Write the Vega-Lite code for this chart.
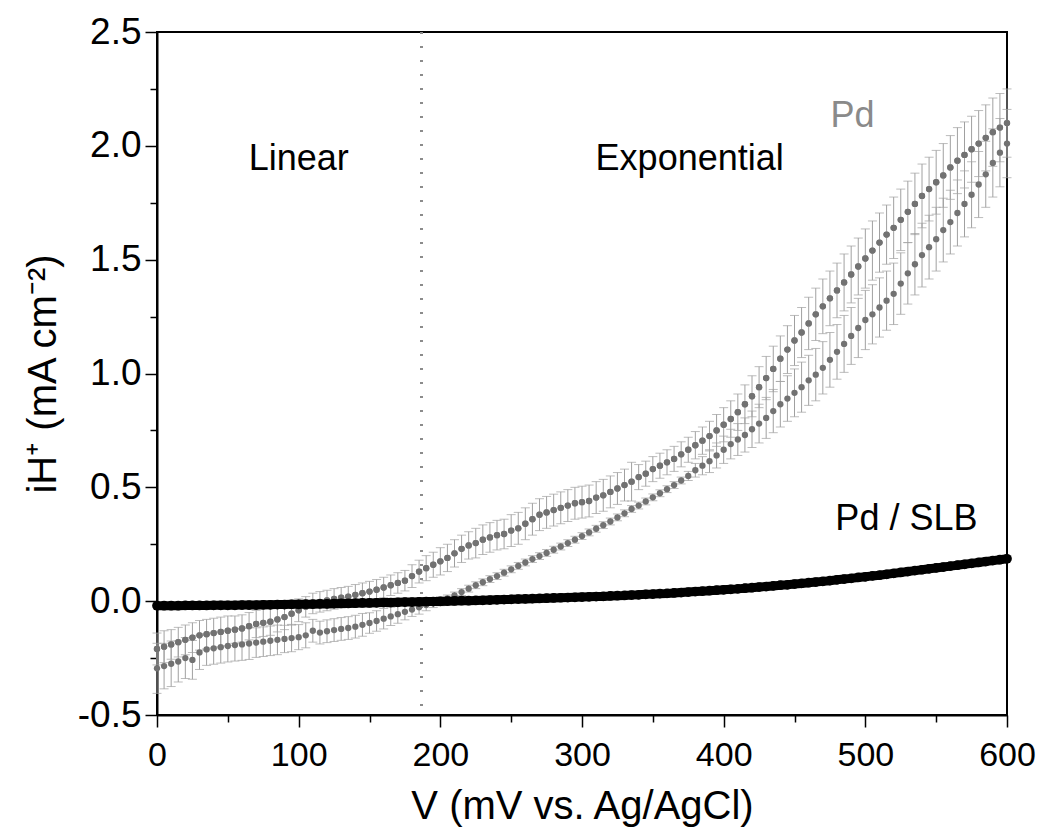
{
  "$schema": "https://vega.github.io/schema/vega-lite/v6.json",
  "width": 850,
  "height": 683,
  "autosize": {"type": "none"},
  "padding": {"left": 157, "top": 32, "right": 34, "bottom": 121},
  "background": "white",
  "config": {
    "font": "Liberation Sans",
    "view": {"stroke": "black", "strokeWidth": 2},
    "axis": {
      "grid": false,
      "domainColor": "black",
      "domainWidth": 2,
      "tickColor": "black",
      "tickWidth": 1.5,
      "labelColor": "black",
      "titleColor": "black",
      "labelFont": "Liberation Sans",
      "titleFont": "Liberation Sans",
      "titleFontWeight": "normal",
      "labelOverlap": false,
      "labelBound": false,
      "labelFlush": false
    }
  },
  "datasets": {
    "pd": [
      {"v":0,"a":-0.21,"ea":0.07,"b":-0.295,"eb":0.11,"c":-0.020},
      {"v":5,"a":-0.2,"ea":0.07,"b":-0.285,"eb":0.1,"c":-0.020},
      {"v":10,"a":-0.19,"ea":0.065,"b":-0.275,"eb":0.1,"c":-0.020},
      {"v":15,"a":-0.18,"ea":0.065,"b":-0.265,"eb":0.09,"c":-0.020},
      {"v":20,"a":-0.17,"ea":0.065,"b":-0.25,"eb":0.09,"c":-0.019},
      {"v":25,"a":-0.16,"ea":0.065,"b":-0.258,"eb":0.085,"c":-0.019},
      {"v":30,"a":-0.15,"ea":0.065,"b":-0.225,"eb":0.075,"c":-0.019},
      {"v":35,"a":-0.145,"ea":0.065,"b":-0.212,"eb":0.07,"c":-0.019},
      {"v":40,"a":-0.14,"ea":0.065,"b":-0.207,"eb":0.07,"c":-0.018},
      {"v":45,"a":-0.135,"ea":0.065,"b":-0.202,"eb":0.07,"c":-0.018},
      {"v":50,"a":-0.13,"ea":0.065,"b":-0.197,"eb":0.07,"c":-0.018},
      {"v":55,"a":-0.125,"ea":0.06,"b":-0.193,"eb":0.07,"c":-0.018},
      {"v":60,"a":-0.12,"ea":0.06,"b":-0.19,"eb":0.07,"c":-0.017},
      {"v":65,"a":-0.11,"ea":0.06,"b":-0.186,"eb":0.07,"c":-0.017},
      {"v":70,"a":-0.1,"ea":0.06,"b":-0.182,"eb":0.065,"c":-0.017},
      {"v":75,"a":-0.095,"ea":0.06,"b":-0.178,"eb":0.065,"c":-0.016},
      {"v":80,"a":-0.09,"ea":0.06,"b":-0.174,"eb":0.065,"c":-0.016},
      {"v":85,"a":-0.08,"ea":0.055,"b":-0.17,"eb":0.065,"c":-0.015},
      {"v":90,"a":-0.07,"ea":0.055,"b":-0.166,"eb":0.06,"c":-0.015},
      {"v":95,"a":-0.055,"ea":0.05,"b":-0.162,"eb":0.06,"c":-0.014},
      {"v":100,"a":-0.04,"ea":0.05,"b":-0.158,"eb":0.055,"c":-0.014},
      {"v":105,"a":-0.025,"ea":0.045,"b":-0.15,"eb":0.055,"c":-0.013},
      {"v":110,"a":-0.01,"ea":0.045,"b":-0.13,"eb":0.05,"c":-0.013},
      {"v":115,"a":-0.003,"ea":0.045,"b":-0.138,"eb":0.05,"c":-0.012},
      {"v":120,"a":0.003,"ea":0.045,"b":-0.132,"eb":0.05,"c":-0.012},
      {"v":125,"a":0.01,"ea":0.045,"b":-0.127,"eb":0.05,"c":-0.011},
      {"v":130,"a":0.015,"ea":0.045,"b":-0.122,"eb":0.05,"c":-0.010},
      {"v":135,"a":0.02,"ea":0.045,"b":-0.118,"eb":0.05,"c":-0.010},
      {"v":140,"a":0.028,"ea":0.045,"b":-0.112,"eb":0.05,"c":-0.009},
      {"v":145,"a":0.035,"ea":0.045,"b":-0.104,"eb":0.05,"c":-0.008},
      {"v":150,"a":0.042,"ea":0.045,"b":-0.096,"eb":0.045,"c":-0.008},
      {"v":155,"a":0.05,"ea":0.045,"b":-0.087,"eb":0.045,"c":-0.007},
      {"v":160,"a":0.06,"ea":0.045,"b":-0.077,"eb":0.045,"c":-0.006},
      {"v":165,"a":0.07,"ea":0.045,"b":-0.067,"eb":0.04,"c":-0.006},
      {"v":170,"a":0.08,"ea":0.045,"b":-0.057,"eb":0.04,"c":-0.005},
      {"v":175,"a":0.09,"ea":0.045,"b":-0.047,"eb":0.035,"c":-0.004},
      {"v":180,"a":0.11,"ea":0.05,"b":-0.037,"eb":0.03,"c":-0.004},
      {"v":185,"a":0.13,"ea":0.05,"b":-0.027,"eb":0.03,"c":-0.003},
      {"v":190,"a":0.145,"ea":0.055,"b":-0.017,"eb":0.025,"c":-0.002},
      {"v":195,"a":0.16,"ea":0.055,"b":-0.008,"eb":0.02,"c":-0.002},
      {"v":200,"a":0.175,"ea":0.06,"b":0.0,"eb":0.02,"c":-0.001},
      {"v":205,"a":0.19,"ea":0.06,"b":0.012,"eb":0.015,"c":0.000},
      {"v":210,"a":0.21,"ea":0.06,"b":0.025,"eb":0.015,"c":0.001},
      {"v":215,"a":0.23,"ea":0.06,"b":0.04,"eb":0.015,"c":0.002},
      {"v":220,"a":0.245,"ea":0.06,"b":0.055,"eb":0.015,"c":0.002},
      {"v":225,"a":0.255,"ea":0.065,"b":0.07,"eb":0.015,"c":0.003},
      {"v":230,"a":0.27,"ea":0.065,"b":0.083,"eb":0.015,"c":0.004},
      {"v":235,"a":0.28,"ea":0.065,"b":0.097,"eb":0.015,"c":0.005},
      {"v":240,"a":0.29,"ea":0.065,"b":0.11,"eb":0.015,"c":0.006},
      {"v":245,"a":0.295,"ea":0.065,"b":0.125,"eb":0.015,"c":0.007},
      {"v":250,"a":0.31,"ea":0.07,"b":0.14,"eb":0.015,"c":0.008},
      {"v":255,"a":0.32,"ea":0.07,"b":0.155,"eb":0.015,"c":0.009},
      {"v":260,"a":0.34,"ea":0.07,"b":0.17,"eb":0.015,"c":0.010},
      {"v":265,"a":0.36,"ea":0.07,"b":0.185,"eb":0.015,"c":0.011},
      {"v":270,"a":0.38,"ea":0.07,"b":0.198,"eb":0.015,"c":0.012},
      {"v":275,"a":0.39,"ea":0.07,"b":0.212,"eb":0.015,"c":0.013},
      {"v":280,"a":0.4,"ea":0.07,"b":0.226,"eb":0.015,"c":0.014},
      {"v":285,"a":0.41,"ea":0.07,"b":0.24,"eb":0.015,"c":0.015},
      {"v":290,"a":0.42,"ea":0.07,"b":0.255,"eb":0.015,"c":0.016},
      {"v":295,"a":0.43,"ea":0.07,"b":0.27,"eb":0.015,"c":0.017},
      {"v":300,"a":0.435,"ea":0.07,"b":0.286,"eb":0.015,"c":0.018},
      {"v":305,"a":0.44,"ea":0.07,"b":0.302,"eb":0.015,"c":0.019},
      {"v":310,"a":0.455,"ea":0.07,"b":0.318,"eb":0.015,"c":0.020},
      {"v":315,"a":0.465,"ea":0.07,"b":0.334,"eb":0.015,"c":0.021},
      {"v":320,"a":0.48,"ea":0.07,"b":0.35,"eb":0.015,"c":0.023},
      {"v":325,"a":0.495,"ea":0.07,"b":0.368,"eb":0.015,"c":0.024},
      {"v":330,"a":0.51,"ea":0.07,"b":0.386,"eb":0.015,"c":0.025},
      {"v":335,"a":0.525,"ea":0.085,"b":0.405,"eb":0.015,"c":0.027},
      {"v":340,"a":0.545,"ea":0.055,"b":0.42,"eb":0.015,"c":0.028},
      {"v":345,"a":0.56,"ea":0.055,"b":0.438,"eb":0.015,"c":0.030},
      {"v":350,"a":0.58,"ea":0.055,"b":0.456,"eb":0.015,"c":0.031},
      {"v":355,"a":0.595,"ea":0.055,"b":0.474,"eb":0.015,"c":0.033},
      {"v":360,"a":0.61,"ea":0.055,"b":0.492,"eb":0.015,"c":0.034},
      {"v":365,"a":0.625,"ea":0.055,"b":0.51,"eb":0.015,"c":0.036},
      {"v":370,"a":0.645,"ea":0.055,"b":0.53,"eb":0.015,"c":0.038},
      {"v":375,"a":0.665,"ea":0.055,"b":0.55,"eb":0.02,"c":0.040},
      {"v":380,"a":0.685,"ea":0.06,"b":0.575,"eb":0.03,"c":0.042},
      {"v":385,"a":0.705,"ea":0.06,"b":0.595,"eb":0.04,"c":0.044},
      {"v":390,"a":0.725,"ea":0.065,"b":0.615,"eb":0.05,"c":0.046},
      {"v":395,"a":0.75,"ea":0.07,"b":0.64,"eb":0.055,"c":0.048},
      {"v":400,"a":0.775,"ea":0.075,"b":0.665,"eb":0.06,"c":0.050},
      {"v":405,"a":0.8,"ea":0.08,"b":0.69,"eb":0.065,"c":0.052},
      {"v":410,"a":0.83,"ea":0.08,"b":0.71,"eb":0.07,"c":0.054},
      {"v":415,"a":0.865,"ea":0.085,"b":0.73,"eb":0.075,"c":0.057},
      {"v":420,"a":0.9,"ea":0.09,"b":0.755,"eb":0.08,"c":0.059},
      {"v":425,"a":0.94,"ea":0.09,"b":0.78,"eb":0.085,"c":0.062},
      {"v":430,"a":0.98,"ea":0.095,"b":0.805,"eb":0.09,"c":0.064},
      {"v":435,"a":1.02,"ea":0.1,"b":0.835,"eb":0.095,"c":0.067},
      {"v":440,"a":1.065,"ea":0.1,"b":0.865,"eb":0.1,"c":0.070},
      {"v":445,"a":1.105,"ea":0.105,"b":0.89,"eb":0.1,"c":0.072},
      {"v":450,"a":1.145,"ea":0.11,"b":0.915,"eb":0.105,"c":0.075},
      {"v":455,"a":1.18,"ea":0.11,"b":0.94,"eb":0.11,"c":0.078},
      {"v":460,"a":1.22,"ea":0.115,"b":0.97,"eb":0.11,"c":0.081},
      {"v":465,"a":1.26,"ea":0.115,"b":0.995,"eb":0.115,"c":0.084},
      {"v":470,"a":1.295,"ea":0.12,"b":1.025,"eb":0.115,"c":0.087},
      {"v":475,"a":1.33,"ea":0.12,"b":1.06,"eb":0.12,"c":0.090},
      {"v":480,"a":1.365,"ea":0.12,"b":1.095,"eb":0.12,"c":0.094},
      {"v":485,"a":1.4,"ea":0.125,"b":1.13,"eb":0.125,"c":0.097},
      {"v":490,"a":1.435,"ea":0.125,"b":1.165,"eb":0.125,"c":0.100},
      {"v":495,"a":1.47,"ea":0.125,"b":1.2,"eb":0.13,"c":0.104},
      {"v":500,"a":1.505,"ea":0.13,"b":1.235,"eb":0.13,"c":0.107},
      {"v":505,"a":1.54,"ea":0.13,"b":1.26,"eb":0.13,"c":0.111},
      {"v":510,"a":1.575,"ea":0.13,"b":1.29,"eb":0.13,"c":0.114},
      {"v":515,"a":1.61,"ea":0.13,"b":1.32,"eb":0.13,"c":0.118},
      {"v":520,"a":1.64,"ea":0.135,"b":1.35,"eb":0.135,"c":0.122},
      {"v":525,"a":1.675,"ea":0.135,"b":1.395,"eb":0.135,"c":0.126},
      {"v":530,"a":1.71,"ea":0.135,"b":1.44,"eb":0.135,"c":0.130},
      {"v":535,"a":1.745,"ea":0.135,"b":1.48,"eb":0.135,"c":0.134},
      {"v":540,"a":1.78,"ea":0.14,"b":1.52,"eb":0.14,"c":0.138},
      {"v":545,"a":1.81,"ea":0.14,"b":1.555,"eb":0.14,"c":0.142},
      {"v":550,"a":1.84,"ea":0.14,"b":1.59,"eb":0.14,"c":0.146},
      {"v":555,"a":1.87,"ea":0.14,"b":1.63,"eb":0.14,"c":0.150},
      {"v":560,"a":1.905,"ea":0.14,"b":1.665,"eb":0.14,"c":0.154},
      {"v":565,"a":1.935,"ea":0.145,"b":1.705,"eb":0.145,"c":0.158},
      {"v":570,"a":1.96,"ea":0.145,"b":1.745,"eb":0.145,"c":0.162},
      {"v":575,"a":1.985,"ea":0.145,"b":1.785,"eb":0.145,"c":0.166},
      {"v":580,"a":2.01,"ea":0.145,"b":1.83,"eb":0.145,"c":0.170},
      {"v":585,"a":2.035,"ea":0.145,"b":1.875,"eb":0.145,"c":0.174},
      {"v":590,"a":2.06,"ea":0.15,"b":1.925,"eb":0.15,"c":0.178},
      {"v":595,"a":2.08,"ea":0.15,"b":1.97,"eb":0.15,"c":0.182},
      {"v":600,"a":2.1,"ea":0.15,"b":2.01,"eb":0.15,"c":0.186}
    ],
    "labels": [
      {"t": "Linear", "v": 100, "y": 1.94, "col": "black"},
      {"t": "Exponential", "v": 376, "y": 1.94, "col": "black"},
      {"t": "Pd", "v": 491, "y": 2.13, "col": "#8a8a8a"},
      {"t": "Pd / SLB", "v": 529, "y": 0.36, "col": "black"}
    ]
  },
  "data": {"name": "pd"},
  "layer": [
    {
      "mark": {"type": "circle", "color": "#727272", "size": 40, "opacity": 1},
      "encoding": {
        "x": {"field": "v", "type": "quantitative", "scale": {"domain": [0, 600], "nice": false},
          "title": "V (mV vs. Ag/AgCl)",
          "axis": {
            "values": [0,50,100,150,200,250,300,350,400,450,500,550,600],
            "labelExpr": "datum.value % 100 === 0 ? datum.label : ''",
            "tickSize": {"condition": {"test": "datum.value % 100 === 0", "value": 12}, "value": 7},
            "labelFontSize": 34,
            "labelPadding": 11,
            "titleFontSize": 40,
            "titlePadding": 14
          }
        },
        "y": {"field": "a", "type": "quantitative", "scale": {"domain": [-0.5, 2.5], "nice": false},
          "title": "iH⁺ (mA cm⁻²)",
          "axis": {
            "values": [-0.5,-0.25,0,0.25,0.5,0.75,1,1.25,1.5,1.75,2,2.25,2.5],
            "labelExpr": "abs(round(datum.value*100)) % 50 === 0 ? replace(format(datum.value, '.1f'), '\u2212', '-') : ''",
            "tickSize": {"condition": {"test": "abs(round(datum.value*100)) % 50 === 0", "value": 12}, "value": 7},
            "labelFontSize": 37,
            "labelPadding": 4,
            "titleFontSize": 40,
            "titlePadding": 14
          }
        }
      }
    },
    {
      "mark": {"type": "rule", "color": "#8c8c8c", "strokeWidth": 2, "strokeDash": [2, 12]},
      "encoding": {
        "x": {"datum": 187, "type": "quantitative"}
      }
    },
    {
      "mark": {"type": "errorbar", "color": "#a0a0a0", "thickness": 1, "ticks": {"size": 9, "color": "#a0a0a0"}},
      "encoding": {
        "x": {"field": "v", "type": "quantitative", "title": "V (mV vs. Ag/AgCl)"},
        "y": {"field": "a", "type": "quantitative", "title": "iH⁺ (mA cm⁻²)"},
        "yError": {"field": "ea"}
      }
    },
    {
      "mark": {"type": "errorbar", "color": "#a0a0a0", "thickness": 1, "ticks": {"size": 9, "color": "#a0a0a0"}},
      "encoding": {
        "x": {"field": "v", "type": "quantitative", "title": "V (mV vs. Ag/AgCl)"},
        "y": {"field": "b", "type": "quantitative", "title": "iH⁺ (mA cm⁻²)"},
        "yError": {"field": "eb"}
      }
    },
    {
      "mark": {"type": "circle", "color": "#727272", "size": 40, "opacity": 1},
      "encoding": {
        "x": {"field": "v", "type": "quantitative", "title": "V (mV vs. Ag/AgCl)"},
        "y": {"field": "a", "type": "quantitative", "title": "iH⁺ (mA cm⁻²)"}
      }
    },
    {
      "mark": {"type": "circle", "color": "#727272", "size": 40, "opacity": 1},
      "encoding": {
        "x": {"field": "v", "type": "quantitative", "title": "V (mV vs. Ag/AgCl)"},
        "y": {"field": "b", "type": "quantitative", "title": "iH⁺ (mA cm⁻²)"}
      }
    },
    {
      "mark": {"type": "line", "color": "black", "strokeWidth": 9},
      "encoding": {
        "x": {"field": "v", "type": "quantitative", "title": "V (mV vs. Ag/AgCl)"},
        "y": {"field": "c", "type": "quantitative", "title": "iH⁺ (mA cm⁻²)"}
      }
    },
    {
      "mark": {"type": "circle", "color": "black", "size": 95, "opacity": 1},
      "encoding": {
        "x": {"field": "v", "type": "quantitative", "title": "V (mV vs. Ag/AgCl)"},
        "y": {"field": "c", "type": "quantitative", "title": "iH⁺ (mA cm⁻²)"}
      }
    },
    {
      "data": {"name": "labels"},
      "mark": {"type": "text", "fontSize": 36, "font": "Liberation Sans", "align": "center", "baseline": "middle"},
      "encoding": {
        "x": {"field": "v", "type": "quantitative", "title": "V (mV vs. Ag/AgCl)"},
        "y": {"field": "y", "type": "quantitative", "title": "iH⁺ (mA cm⁻²)"},
        "text": {"field": "t"},
        "color": {"field": "col", "type": "nominal", "scale": null}
      }
    }
  ]
}
